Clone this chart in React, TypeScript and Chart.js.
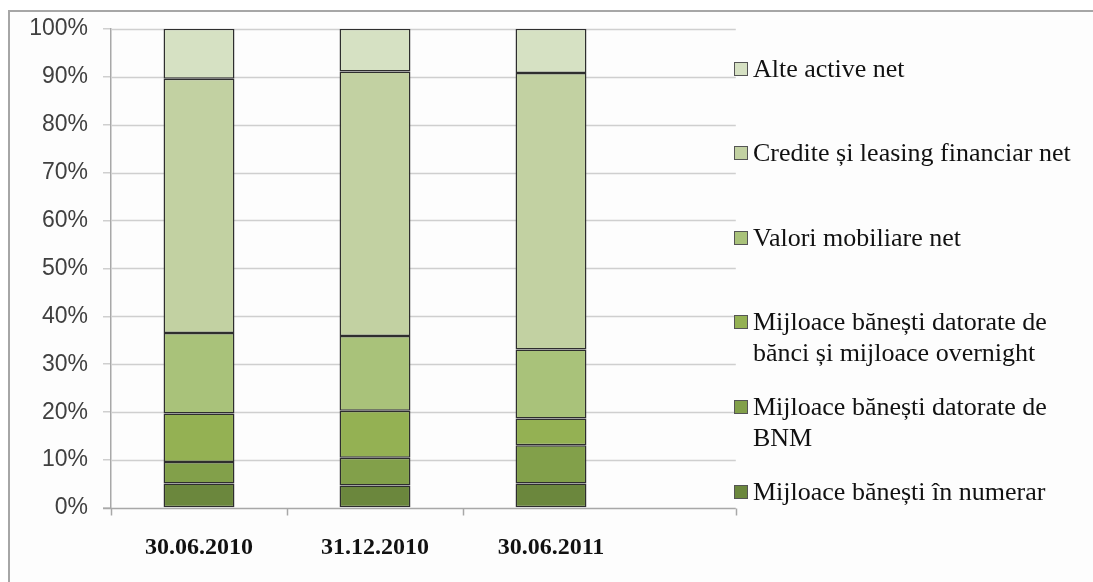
import React, { useEffect, useRef } from "react";
import { Chart, registerables } from "chart.js";

Chart.register(...registerables);

const categories = ["30.06.2010", "31.12.2010", "30.06.2011"];
const numerar = [5.1, 4.7, 5.1];
const bnm = [4.5, 5.8, 8.0];
const banci = [10.1, 9.8, 5.6];
const valori = [16.8, 15.6, 14.4];
const credite = [53.1, 55.2, 57.7];
const alte = [10.4, 8.9, 9.2];

const seriesNames = [
  "Mijloace bănești în numerar",
  "Mijloace bănești datorate de\nBNM",
  "Mijloace bănești datorate de\nbănci și mijloace overnight",
  "Valori mobiliare net",
  "Credite și leasing financiar net",
  "Alte active net",
];
const seriesValues = [numerar, bnm, banci, valori, credite, alte];
const seriesColors = ["#6b873d", "#82a04a", "#94b153", "#a9c27a", "#c2d1a2", "#d6e1c3"];

const GRID = "#cfcfcf";
const AXIS = "#a8a8a8";

const extendPlugin = {
  id: "extendGrid",
  beforeDatasetsDraw(chart: any) {
    const { ctx, chartArea, scales } = chart;
    const x = scales.x;
    const y = scales.y;
    const cat = (chartArea.right - chartArea.left) / categories.length;
    const end = chartArea.right + cat * 0.55;
    ctx.save();
    ctx.lineWidth = 1.5;
    y.ticks.forEach((t: any) => {
      if (t.value === 0) return;
      const py = Math.round(y.getPixelForValue(t.value)) + 0.5;
      ctx.strokeStyle = GRID;
      ctx.beginPath();
      ctx.moveTo(chartArea.left, py);
      ctx.lineTo(end, py);
      ctx.stroke();
    });
    const by = Math.round(chartArea.bottom) + 0.5;
    ctx.strokeStyle = AXIS;
    ctx.beginPath();
    ctx.moveTo(chartArea.left - 8, by);
    ctx.lineTo(end, by);
    ctx.stroke();
    const tickXs: number[] = [];
    for (let i = 0; i < categories.length; i++) {
      tickXs.push(x.getPixelForValue(i) - cat / 2);
    }
    tickXs.push(end);
    tickXs.forEach((tx) => {
      const px = Math.round(tx) + 0.5;
      ctx.beginPath();
      ctx.moveTo(px, by);
      ctx.lineTo(px, by + 7);
      ctx.stroke();
    });
    ctx.restore();
  },
};

export default function App() {
  const ref = useRef<HTMLCanvasElement | null>(null);
  useEffect(() => {
    if (!ref.current) return;
    const chart = new Chart(ref.current, {
      type: "bar",
      data: {
        labels: categories,
        datasets: seriesValues.map((vals, i) => ({
          label: seriesNames[i],
          data: vals,
          backgroundColor: seriesColors[i],
          borderColor: "#2e2e2e",
          borderWidth: 1.5,
          borderSkipped: false,
          categoryPercentage: 1,
          barPercentage: 0.403,
        })),
      },
      options: {
        animation: false,
        responsive: false,
        maintainAspectRatio: false,
        layout: { padding: { top: 28, right: 454, bottom: 0, left: 0 } },
        plugins: { legend: { display: false }, tooltip: { enabled: false } },
        scales: {
          x: {
            stacked: true,
            afterFit: (s: any) => {
              s.height = 74;
            },
            grid: { display: false },
            border: { display: false },
            ticks: {
              color: "#111",
              padding: 17,
              font: { family: "'Liberation Serif', serif", size: 24, weight: "bold" },
            },
          },
          y: {
            stacked: true,
            min: 0,
            max: 100,
            afterFit: (s: any) => {
              s.width = 111;
            },
            grid: {
              color: GRID,
              lineWidth: 1.5,
              drawOnChartArea: false,
              drawTicks: true,
              tickLength: 8,
            },
            border: { display: true, color: AXIS, width: 1.5 },
            ticks: {
              stepSize: 10,
              color: "#404040",
              padding: 15,
              font: { family: "'Liberation Sans', Arial, sans-serif", size: 23 },
              callback: (v: any) => v + "%",
            },
          },
        },
      },
      plugins: [extendPlugin],
    });
    return () => chart.destroy();
  }, []);

  const order = [5, 4, 3, 2, 1, 0];
  return (
    <div
      style={{
        position: "absolute",
        left: 0,
        top: 0,
        width: 1093,
        height: 582,
        background: "#ffffff",
        overflow: "hidden",
      }}
    >
      <div
        style={{
          position: "absolute",
          left: 8,
          top: 10,
          width: 1200,
          height: 700,
          borderTop: "2px solid #a6a6a6",
          borderLeft: "2px solid #a6a6a6",
          background: "#fdfdfd",
        }}
      />
      <canvas ref={ref} width={1093} height={582} style={{ position: "absolute", left: 0, top: 0 }} />
      {order.map((si, i) => (
        <div
          key={si}
          style={{
            position: "absolute",
            left: 734,
            top: 68 - 15.5 + i * 84.6,
            display: "flex",
            alignItems: "flex-start",
            fontFamily: "'Liberation Serif', 'Times New Roman', serif",
            fontSize: 26,
            lineHeight: "31px",
            color: "#111",
            whiteSpace: "pre-line",
          }}
        >
          <div
            style={{
              width: 12,
              height: 12,
              marginTop: 9,
              marginRight: 5,
              border: "1px solid #555",
              background: seriesColors[si],
              flex: "none",
            }}
          />
          <div>{seriesNames[si]}</div>
        </div>
      ))}
    </div>
  );
}
